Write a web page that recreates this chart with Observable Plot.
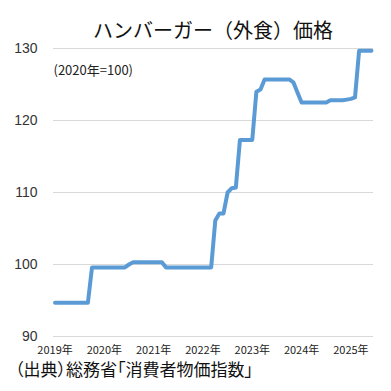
<!DOCTYPE html>
<html>
<head>
<meta charset="utf-8">
<script src="https://cdn.jsdelivr.net/npm/d3@7"></script>
<script src="https://cdn.jsdelivr.net/npm/@observablehq/plot@0.6"></script>
<style>
  html, body { margin: 0; padding: 0; background: #fff; }
  #wrap { width: 391px; height: 391px; overflow: hidden; }
  #title { font-family: "Noto Sans CJK JP", sans-serif; font-size: 20px; line-height: 20px; height: 20px; padding-top: 20px; padding-left: 53px; padding-right: 18px; text-align: center; color: #111; }
  #caption { font-family: "Noto Sans CJK JP", sans-serif; font-size: 17px; line-height: 18px; height: 18px; margin-top: -4px; padding-left: 15px; color: #111; font-feature-settings: "palt"; }
  svg { display: block; }
</style>
</head>
<body>
<div id="wrap">
  <div id="title">ハンバーガー（外食）価格</div>
  <div id="chart"></div>
  <div id="caption">（出典）総務省「消費者物価指数」</div>
</div>
<script>
// Monthly hamburger (eating out) CPI, Jan 2019 – Jun 2025 (2020 = 100)
const hamburgerIndex = [
  94.7, 94.7, 94.7, 94.7, 94.7, 94.7, 94.7, 94.7, 94.7,          // 2019 Jan–Sep
  99.6, 99.6, 99.6,                                              // 2019 Oct–Dec
  99.6, 99.6, 99.6, 99.6, 99.6, 99.6, 100.0, 100.3, 100.3, 100.3, 100.3, 100.3, // 2020
  100.3, 100.3, 100.3, 99.6, 99.6, 99.6, 99.6, 99.6, 99.6, 99.6, 99.6, 99.6,    // 2021
  99.6, 99.6, 99.6, 106.1, 107.1, 107.1, 110.0, 110.6, 110.7, 117.3, 117.3, 117.3, // 2022
  117.3, 124.0, 124.3, 125.7, 125.7, 125.7, 125.7, 125.7, 125.7, 125.7, 125.3, 123.9, // 2023
  122.5, 122.5, 122.5, 122.5, 122.5, 122.5, 122.5, 122.8, 122.8, 122.8, 122.8, 122.9, // 2024
  123.0, 123.2, 129.7, 129.7, 129.7, 129.7                       // 2025 Jan–Jun
];
const yearLabels = ["2019年", "2020年", "2021年", "2022年", "2023年", "2024年", "2025年"];
const yearStartMonths = [0, 12, 24, 36, 48, 60, 72];
const yTicks = [90, 100, 110, 120, 130];
const unitLabel = "(2020年=100)";

const data = hamburgerIndex.map((v, i) => ({month: i, value: v}));

const chart = Plot.plot({
  width: 391,
  height: 324,
  marginTop: 8,
  marginBottom: 28,
  marginLeft: 53,
  marginRight: 18,
  style: {fontFamily: "'Noto Sans CJK JP', sans-serif", background: "#fff", color: "#222"},
  x: {domain: [-0.37, 77.5]},
  y: {domain: [90, 130]},
  marks: [
    Plot.gridY(yTicks, {stroke: "#d9d9d9", strokeOpacity: 1, strokeWidth: 1}),
    Plot.axisY(yTicks, {tickSize: 0, tickPadding: 16, fontSize: 14, fill: "#333", label: null, fontFamily: "'Liberation Sans', sans-serif"}),
    Plot.axisX(yearStartMonths, {tickSize: 0, tickPadding: 10, fontSize: 11, fill: "#222", label: null,
      tickFormat: (d) => yearLabels[yearStartMonths.indexOf(d)]}),
    Plot.lineY(data, {x: "month", y: "value", stroke: "#5b9bd5", strokeWidth: 4, strokeLinejoin: "round", strokeLinecap: "round"}),
    Plot.text([unitLabel], {frameAnchor: "top-left", dy: 17, textAnchor: "start", lineAnchor: "top", fontSize: 13, fill: "#222"})
  ]
});
document.getElementById("chart").appendChild(chart);
</script>
</body>
</html>
